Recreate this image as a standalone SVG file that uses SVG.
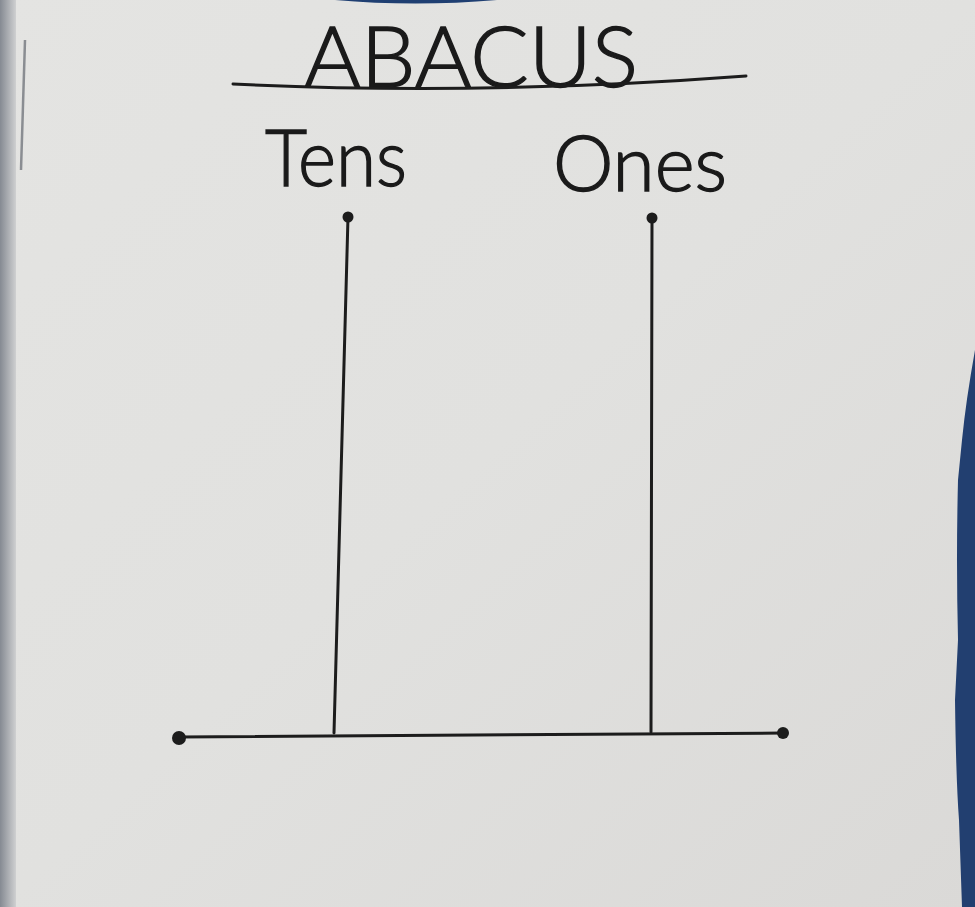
<svg xmlns="http://www.w3.org/2000/svg" width="975" height="907" viewBox="0 0 975 907">
<defs>
<linearGradient id="paper" x1="0" y1="0" x2="1" y2="1">
<stop offset="0" stop-color="#e4e4e2"/>
<stop offset="0.5" stop-color="#e1e1df"/>
<stop offset="1" stop-color="#dad9d7"/>
</linearGradient>
<linearGradient id="leftEdge" x1="0" y1="0" x2="1" y2="0">
<stop offset="0" stop-color="#858a92"/>
<stop offset="1" stop-color="#cfd0d1"/>
</linearGradient>
<style>
.ink{stroke:#1c1c1c;stroke-width:3;fill:none;stroke-linecap:round}
.dot{fill:#1c1c1c}
.hand{font-family:Lato,"Open Sans","Liberation Sans",sans-serif;font-weight:300;fill:#1a1a1a;stroke:#1a1a1a;stroke-width:1.4}
</style>
</defs>
<rect width="975" height="907" fill="url(#paper)"/>
<rect x="0" y="0" width="16" height="907" fill="url(#leftEdge)"/>
<line x1="25" y1="40" x2="21" y2="170" stroke="#50555e" stroke-width="2.5" opacity="0.6"/>
<path d="M335,0 Q415,7 497,0 Z" fill="#1f3f72"/>
<path d="M975,350 Q966,400 962,440 L958,480 Q956,560 958,640 L955,700 Q956,780 959,820 L962,907 L975,907 Z" fill="#223f70"/>

<g id="title">
<text class="hand" x="471" y="87" font-size="84" text-anchor="middle" textLength="334" lengthAdjust="spacingAndGlyphs">ABACUS</text>
<path class="ink" stroke-width="3.5" d="M233,84 Q480,96 746,76"/>
</g>
<g id="tens">
<text class="hand" x="336" y="186" font-size="78" text-anchor="middle" textLength="142" lengthAdjust="spacingAndGlyphs">Tens</text>
</g>
<g id="ones">
<text class="hand" x="640" y="191" font-size="76" text-anchor="middle" textLength="174" lengthAdjust="spacingAndGlyphs">Ones</text>
</g>
<g id="connectors">
<line class="ink" x1="348" y1="217" x2="334" y2="733"/>
<circle class="dot" cx="348" cy="217" r="5.5"/>
<line class="ink" x1="652" y1="219" x2="651" y2="732"/>
<circle class="dot" cx="652" cy="218" r="5.5"/>
<line class="ink" x1="180" y1="737" x2="783" y2="733"/>
<circle class="dot" cx="179" cy="738" r="7"/>
<circle class="dot" cx="783" cy="733" r="6"/>
</g>
</svg>
